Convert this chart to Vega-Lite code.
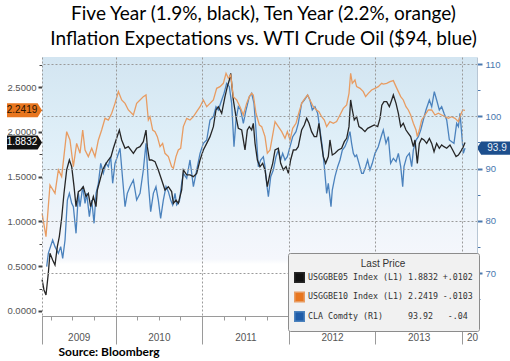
{
"$schema":"https://vega.github.io/schema/vega-lite/v6.json",
"width":435,"height":259,
"autosize":{"type":"none"},
"padding":{"left":42,"top":57,"right":33,"bottom":45},
"background":"#ffffff",
"title":{"text":["Five Year (1.9%, black), Ten Year (2.2%, orange)","Inflation Expectations  vs. WTI Crude Oil ($94, blue)"],"font":"Lato","fontSize":19,"fontWeight":"normal","color":"#000000","anchor":"middle","frame":"group","baseline":"bottom","offset":10,"lineHeight":25,"dx":4,"dy":21},
"datasets":{
"bg":[{"panel":"plot"}],
"pts":[
{"s":"USGGBE05","t":2009.152,"v":0.35},{"s":"USGGBE05","t":2009.174,"v":0.235},{"s":"USGGBE05","t":2009.197,"v":0.179},{"s":"USGGBE05","t":2009.224,"v":0.421},{"s":"USGGBE05","t":2009.243,"v":0.645},{"s":"USGGBE05","t":2009.274,"v":0.57},{"s":"USGGBE05","t":2009.301,"v":0.514},{"s":"USGGBE05","t":2009.328,"v":0.719},{"s":"USGGBE05","t":2009.351,"v":0.831},{"s":"USGGBE05","t":2009.378,"v":1.036},{"s":"USGGBE05","t":2009.405,"v":1.315},{"s":"USGGBE05","t":2009.436,"v":1.576},{"s":"USGGBE05","t":2009.467,"v":1.687},{"s":"USGGBE05","t":2009.494,"v":1.613},{"s":"USGGBE05","t":2009.521,"v":1.389},{"s":"USGGBE05","t":2009.544,"v":1.166},{"s":"USGGBE05","t":2009.571,"v":1.334},{"s":"USGGBE05","t":2009.598,"v":1.352},{"s":"USGGBE05","t":2009.628,"v":1.389},{"s":"USGGBE05","t":2009.659,"v":1.278},{"s":"USGGBE05","t":2009.686,"v":1.315},{"s":"USGGBE05","t":2009.713,"v":1.166},{"s":"USGGBE05","t":2009.744,"v":1.278},{"s":"USGGBE05","t":2009.775,"v":1.166},{"s":"USGGBE05","t":2009.79,"v":1.352},{"s":"USGGBE05","t":2009.821,"v":1.464},{"s":"USGGBE05","t":2009.852,"v":1.576},{"s":"USGGBE05","t":2009.879,"v":1.631},{"s":"USGGBE05","t":2009.917,"v":1.687},{"s":"USGGBE05","t":2009.948,"v":1.725},{"s":"USGGBE05","t":2009.975,"v":1.818},{"s":"USGGBE05","t":2010.006,"v":1.911},{"s":"USGGBE05","t":2010.044,"v":2.022},{"s":"USGGBE05","t":2010.071,"v":1.911},{"s":"USGGBE05","t":2010.11,"v":1.818},{"s":"USGGBE05","t":2010.148,"v":1.836},{"s":"USGGBE05","t":2010.206,"v":1.762},{"s":"USGGBE05","t":2010.244,"v":1.818},{"s":"USGGBE05","t":2010.283,"v":1.836},{"s":"USGGBE05","t":2010.321,"v":1.892},{"s":"USGGBE05","t":2010.352,"v":2.022},{"s":"USGGBE05","t":2010.367,"v":1.836},{"s":"USGGBE05","t":2010.391,"v":1.687},{"s":"USGGBE05","t":2010.417,"v":1.687},{"s":"USGGBE05","t":2010.456,"v":1.669},{"s":"USGGBE05","t":2010.494,"v":1.576},{"s":"USGGBE05","t":2010.533,"v":1.464},{"s":"USGGBE05","t":2010.571,"v":1.352},{"s":"USGGBE05","t":2010.61,"v":1.389},{"s":"USGGBE05","t":2010.648,"v":1.334},{"s":"USGGBE05","t":2010.668,"v":1.203},{"s":"USGGBE05","t":2010.698,"v":1.24},{"s":"USGGBE05","t":2010.725,"v":1.203},{"s":"USGGBE05","t":2010.764,"v":1.352},{"s":"USGGBE05","t":2010.783,"v":1.576},{"s":"USGGBE05","t":2010.822,"v":1.52},{"s":"USGGBE05","t":2010.86,"v":1.52},{"s":"USGGBE05","t":2010.899,"v":1.501},{"s":"USGGBE05","t":2010.937,"v":1.538},{"s":"USGGBE05","t":2010.976,"v":1.687},{"s":"USGGBE05","t":2011.014,"v":1.799},{"s":"USGGBE05","t":2011.053,"v":1.873},{"s":"USGGBE05","t":2011.091,"v":1.948},{"s":"USGGBE05","t":2011.13,"v":2.06},{"s":"USGGBE05","t":2011.16,"v":2.246},{"s":"USGGBE05","t":2011.187,"v":2.283},{"s":"USGGBE05","t":2011.226,"v":2.209},{"s":"USGGBE05","t":2011.264,"v":2.395},{"s":"USGGBE05","t":2011.291,"v":2.507},{"s":"USGGBE05","t":2011.314,"v":2.581},{"s":"USGGBE05","t":2011.33,"v":2.656},{"s":"USGGBE05","t":2011.36,"v":2.358},{"s":"USGGBE05","t":2011.391,"v":2.171},{"s":"USGGBE05","t":2011.418,"v":2.041},{"s":"USGGBE05","t":2011.457,"v":2.022},{"s":"USGGBE05","t":2011.495,"v":1.799},{"s":"USGGBE05","t":2011.522,"v":2.022},{"s":"USGGBE05","t":2011.545,"v":2.06},{"s":"USGGBE05","t":2011.572,"v":2.022},{"s":"USGGBE05","t":2011.591,"v":2.097},{"s":"USGGBE05","t":2011.611,"v":1.873},{"s":"USGGBE05","t":2011.638,"v":1.687},{"s":"USGGBE05","t":2011.668,"v":1.613},{"s":"USGGBE05","t":2011.699,"v":1.65},{"s":"USGGBE05","t":2011.726,"v":1.576},{"s":"USGGBE05","t":2011.753,"v":1.389},{"s":"USGGBE05","t":2011.784,"v":1.538},{"s":"USGGBE05","t":2011.815,"v":1.65},{"s":"USGGBE05","t":2011.842,"v":1.799},{"s":"USGGBE05","t":2011.88,"v":1.818},{"s":"USGGBE05","t":2011.907,"v":1.65},{"s":"USGGBE05","t":2011.938,"v":1.576},{"s":"USGGBE05","t":2011.969,"v":1.613},{"s":"USGGBE05","t":2011.996,"v":1.538},{"s":"USGGBE05","t":2012.022,"v":1.687},{"s":"USGGBE05","t":2012.053,"v":1.799},{"s":"USGGBE05","t":2012.084,"v":1.8},{"s":"USGGBE05","t":2012.11,"v":1.836},{"s":"USGGBE05","t":2012.149,"v":2.022},{"s":"USGGBE05","t":2012.18,"v":2.078},{"s":"USGGBE05","t":2012.207,"v":2.153},{"s":"USGGBE05","t":2012.234,"v":2.097},{"s":"USGGBE05","t":2012.264,"v":2.004},{"s":"USGGBE05","t":2012.295,"v":1.948},{"s":"USGGBE05","t":2012.322,"v":1.948},{"s":"USGGBE05","t":2012.349,"v":2.097},{"s":"USGGBE05","t":2012.372,"v":1.911},{"s":"USGGBE05","t":2012.399,"v":1.725},{"s":"USGGBE05","t":2012.426,"v":1.65},{"s":"USGGBE05","t":2012.457,"v":1.725},{"s":"USGGBE05","t":2012.476,"v":1.911},{"s":"USGGBE05","t":2012.503,"v":1.743},{"s":"USGGBE05","t":2012.534,"v":1.762},{"s":"USGGBE05","t":2012.572,"v":1.799},{"s":"USGGBE05","t":2012.611,"v":1.818},{"s":"USGGBE05","t":2012.642,"v":1.892},{"s":"USGGBE05","t":2012.669,"v":1.929},{"s":"USGGBE05","t":2012.696,"v":2.06},{"s":"USGGBE05","t":2012.715,"v":2.358},{"s":"USGGBE05","t":2012.734,"v":2.246},{"s":"USGGBE05","t":2012.757,"v":2.134},{"s":"USGGBE05","t":2012.784,"v":2.171},{"s":"USGGBE05","t":2012.811,"v":2.06},{"s":"USGGBE05","t":2012.842,"v":2.041},{"s":"USGGBE05","t":2012.88,"v":2.004},{"s":"USGGBE05","t":2012.911,"v":2.041},{"s":"USGGBE05","t":2012.95,"v":2.06},{"s":"USGGBE05","t":2012.988,"v":2.078},{"s":"USGGBE05","t":2013.027,"v":2.06},{"s":"USGGBE05","t":2013.054,"v":2.153},{"s":"USGGBE05","t":2013.075,"v":2.3},{"s":"USGGBE05","t":2013.1,"v":2.34},{"s":"USGGBE05","t":2013.131,"v":2.339},{"s":"USGGBE05","t":2013.162,"v":2.283},{"s":"USGGBE05","t":2013.189,"v":2.358},{"s":"USGGBE05","t":2013.208,"v":2.414},{"s":"USGGBE05","t":2013.239,"v":2.32},{"s":"USGGBE05","t":2013.266,"v":2.209},{"s":"USGGBE05","t":2013.293,"v":2.06},{"s":"USGGBE05","t":2013.323,"v":2.097},{"s":"USGGBE05","t":2013.354,"v":2.022},{"s":"USGGBE05","t":2013.381,"v":1.985},{"s":"USGGBE05","t":2013.408,"v":1.948},{"s":"USGGBE05","t":2013.439,"v":1.836},{"s":"USGGBE05","t":2013.458,"v":1.911},{"s":"USGGBE05","t":2013.485,"v":1.65},{"s":"USGGBE05","t":2013.508,"v":1.873},{"s":"USGGBE05","t":2013.535,"v":1.929},{"s":"USGGBE05","t":2013.562,"v":1.911},{"s":"USGGBE05","t":2013.593,"v":1.873},{"s":"USGGBE05","t":2013.624,"v":1.929},{"s":"USGGBE05","t":2013.651,"v":1.873},{"s":"USGGBE05","t":2013.678,"v":1.78},{"s":"USGGBE05","t":2013.708,"v":1.873},{"s":"USGGBE05","t":2013.739,"v":1.818},{"s":"USGGBE05","t":2013.766,"v":1.855},{"s":"USGGBE05","t":2013.793,"v":1.836},{"s":"USGGBE05","t":2013.824,"v":1.818},{"s":"USGGBE05","t":2013.862,"v":1.855},{"s":"USGGBE05","t":2013.893,"v":1.799},{"s":"USGGBE05","t":2013.932,"v":1.725},{"s":"USGGBE05","t":2013.959,"v":1.743},{"s":"USGGBE05","t":2013.985,"v":1.78},{"s":"USGGBE05","t":2014.016,"v":1.836},{"s":"USGGBE05","t":2014.036,"v":1.883},
{"s":"USGGBE10","t":2009.152,"v":1.091},{"s":"USGGBE10","t":2009.197,"v":0.831},{"s":"USGGBE10","t":2009.243,"v":1.408},{"s":"USGGBE10","t":2009.301,"v":1.315},{"s":"USGGBE10","t":2009.34,"v":1.576},{"s":"USGGBE10","t":2009.378,"v":1.501},{"s":"USGGBE10","t":2009.436,"v":2.004},{"s":"USGGBE10","t":2009.474,"v":1.911},{"s":"USGGBE10","t":2009.513,"v":1.613},{"s":"USGGBE10","t":2009.551,"v":1.873},{"s":"USGGBE10","t":2009.59,"v":1.762},{"s":"USGGBE10","t":2009.621,"v":2.022},{"s":"USGGBE10","t":2009.648,"v":1.799},{"s":"USGGBE10","t":2009.686,"v":1.725},{"s":"USGGBE10","t":2009.725,"v":1.818},{"s":"USGGBE10","t":2009.763,"v":1.725},{"s":"USGGBE10","t":2009.802,"v":1.911},{"s":"USGGBE10","t":2009.84,"v":2.022},{"s":"USGGBE10","t":2009.879,"v":2.153},{"s":"USGGBE10","t":2009.917,"v":2.134},{"s":"USGGBE10","t":2009.956,"v":2.209},{"s":"USGGBE10","t":2009.994,"v":2.32},{"s":"USGGBE10","t":2010.033,"v":2.451},{"s":"USGGBE10","t":2010.071,"v":2.358},{"s":"USGGBE10","t":2010.11,"v":2.32},{"s":"USGGBE10","t":2010.148,"v":2.246},{"s":"USGGBE10","t":2010.206,"v":2.19},{"s":"USGGBE10","t":2010.244,"v":2.32},{"s":"USGGBE10","t":2010.283,"v":2.358},{"s":"USGGBE10","t":2010.321,"v":2.395},{"s":"USGGBE10","t":2010.352,"v":2.414},{"s":"USGGBE10","t":2010.379,"v":2.134},{"s":"USGGBE10","t":2010.398,"v":2.171},{"s":"USGGBE10","t":2010.429,"v":2.022},{"s":"USGGBE10","t":2010.456,"v":2.004},{"s":"USGGBE10","t":2010.483,"v":1.948},{"s":"USGGBE10","t":2010.514,"v":1.836},{"s":"USGGBE10","t":2010.544,"v":1.873},{"s":"USGGBE10","t":2010.571,"v":1.762},{"s":"USGGBE10","t":2010.61,"v":1.725},{"s":"USGGBE10","t":2010.648,"v":1.613},{"s":"USGGBE10","t":2010.668,"v":1.594},{"s":"USGGBE10","t":2010.698,"v":1.725},{"s":"USGGBE10","t":2010.725,"v":1.799},{"s":"USGGBE10","t":2010.752,"v":1.818},{"s":"USGGBE10","t":2010.783,"v":2.06},{"s":"USGGBE10","t":2010.822,"v":2.153},{"s":"USGGBE10","t":2010.86,"v":2.134},{"s":"USGGBE10","t":2010.899,"v":2.171},{"s":"USGGBE10","t":2010.937,"v":2.227},{"s":"USGGBE10","t":2010.976,"v":2.283},{"s":"USGGBE10","t":2011.014,"v":2.358},{"s":"USGGBE10","t":2011.053,"v":2.283},{"s":"USGGBE10","t":2011.091,"v":2.32},{"s":"USGGBE10","t":2011.13,"v":2.358},{"s":"USGGBE10","t":2011.168,"v":2.488},{"s":"USGGBE10","t":2011.207,"v":2.507},{"s":"USGGBE10","t":2011.245,"v":2.544},{"s":"USGGBE10","t":2011.276,"v":2.656},{"s":"USGGBE10","t":2011.303,"v":2.6},{"s":"USGGBE10","t":2011.33,"v":2.637},{"s":"USGGBE10","t":2011.36,"v":2.395},{"s":"USGGBE10","t":2011.399,"v":2.358},{"s":"USGGBE10","t":2011.437,"v":2.283},{"s":"USGGBE10","t":2011.476,"v":2.19},{"s":"USGGBE10","t":2011.514,"v":2.32},{"s":"USGGBE10","t":2011.545,"v":2.395},{"s":"USGGBE10","t":2011.572,"v":2.432},{"s":"USGGBE10","t":2011.591,"v":2.414},{"s":"USGGBE10","t":2011.622,"v":2.209},{"s":"USGGBE10","t":2011.661,"v":2.078},{"s":"USGGBE10","t":2011.688,"v":2.06},{"s":"USGGBE10","t":2011.726,"v":1.948},{"s":"USGGBE10","t":2011.753,"v":1.762},{"s":"USGGBE10","t":2011.784,"v":1.799},{"s":"USGGBE10","t":2011.815,"v":1.967},{"s":"USGGBE10","t":2011.842,"v":2.116},{"s":"USGGBE10","t":2011.88,"v":2.06},{"s":"USGGBE10","t":2011.919,"v":2.004},{"s":"USGGBE10","t":2011.957,"v":1.929},{"s":"USGGBE10","t":2011.984,"v":2.004},{"s":"USGGBE10","t":2012.015,"v":1.911},{"s":"USGGBE10","t":2012.046,"v":2.041},{"s":"USGGBE10","t":2012.084,"v":2.097},{"s":"USGGBE10","t":2012.11,"v":2.19},{"s":"USGGBE10","t":2012.149,"v":2.32},{"s":"USGGBE10","t":2012.187,"v":2.376},{"s":"USGGBE10","t":2012.218,"v":2.414},{"s":"USGGBE10","t":2012.245,"v":2.358},{"s":"USGGBE10","t":2012.284,"v":2.283},{"s":"USGGBE10","t":2012.322,"v":2.246},{"s":"USGGBE10","t":2012.349,"v":2.227},{"s":"USGGBE10","t":2012.38,"v":2.171},{"s":"USGGBE10","t":2012.411,"v":2.134},{"s":"USGGBE10","t":2012.438,"v":2.06},{"s":"USGGBE10","t":2012.476,"v":2.116},{"s":"USGGBE10","t":2012.515,"v":2.097},{"s":"USGGBE10","t":2012.553,"v":2.116},{"s":"USGGBE10","t":2012.592,"v":2.19},{"s":"USGGBE10","t":2012.63,"v":2.264},{"s":"USGGBE10","t":2012.669,"v":2.302},{"s":"USGGBE10","t":2012.696,"v":2.432},{"s":"USGGBE10","t":2012.715,"v":2.656},{"s":"USGGBE10","t":2012.734,"v":2.544},{"s":"USGGBE10","t":2012.765,"v":2.581},{"s":"USGGBE10","t":2012.784,"v":2.507},{"s":"USGGBE10","t":2012.823,"v":2.488},{"s":"USGGBE10","t":2012.861,"v":2.451},{"s":"USGGBE10","t":2012.888,"v":2.395},{"s":"USGGBE10","t":2012.919,"v":2.432},{"s":"USGGBE10","t":2012.957,"v":2.469},{"s":"USGGBE10","t":2012.996,"v":2.488},{"s":"USGGBE10","t":2013.034,"v":2.507},{"s":"USGGBE10","t":2013.073,"v":2.544},{"s":"USGGBE10","t":2013.092,"v":2.536},{"s":"USGGBE10","t":2013.131,"v":2.544},{"s":"USGGBE10","t":2013.17,"v":2.562},{"s":"USGGBE10","t":2013.208,"v":2.574},{"s":"USGGBE10","t":2013.239,"v":2.507},{"s":"USGGBE10","t":2013.266,"v":2.451},{"s":"USGGBE10","t":2013.293,"v":2.395},{"s":"USGGBE10","t":2013.323,"v":2.358},{"s":"USGGBE10","t":2013.354,"v":2.283},{"s":"USGGBE10","t":2013.381,"v":2.246},{"s":"USGGBE10","t":2013.408,"v":2.19},{"s":"USGGBE10","t":2013.439,"v":2.097},{"s":"USGGBE10","t":2013.47,"v":2.022},{"s":"USGGBE10","t":2013.485,"v":1.948},{"s":"USGGBE10","t":2013.508,"v":2.022},{"s":"USGGBE10","t":2013.535,"v":2.134},{"s":"USGGBE10","t":2013.574,"v":2.19},{"s":"USGGBE10","t":2013.612,"v":2.246},{"s":"USGGBE10","t":2013.651,"v":2.246},{"s":"USGGBE10","t":2013.689,"v":2.19},{"s":"USGGBE10","t":2013.728,"v":2.209},{"s":"USGGBE10","t":2013.766,"v":2.19},{"s":"USGGBE10","t":2013.805,"v":2.171},{"s":"USGGBE10","t":2013.843,"v":2.153},{"s":"USGGBE10","t":2013.882,"v":2.171},{"s":"USGGBE10","t":2013.92,"v":2.153},{"s":"USGGBE10","t":2013.959,"v":2.116},{"s":"USGGBE10","t":2013.985,"v":2.19},{"s":"USGGBE10","t":2014.009,"v":2.246},{"s":"USGGBE10","t":2014.036,"v":2.242},
{"s":"CLA","t":2009.205,"v":71.25},{"s":"CLA","t":2009.224,"v":73.8},{"s":"CLA","t":2009.274,"v":76.35},{"s":"CLA","t":2009.301,"v":75.08},{"s":"CLA","t":2009.34,"v":73.8},{"s":"CLA","t":2009.367,"v":75.08},{"s":"CLA","t":2009.39,"v":72.84},{"s":"CLA","t":2009.417,"v":76.35},{"s":"CLA","t":2009.444,"v":84.0},{"s":"CLA","t":2009.467,"v":85.27},{"s":"CLA","t":2009.494,"v":83.36},{"s":"CLA","t":2009.513,"v":82.72},{"s":"CLA","t":2009.544,"v":77.63},{"s":"CLA","t":2009.571,"v":85.27},{"s":"CLA","t":2009.59,"v":82.72},{"s":"CLA","t":2009.621,"v":86.55},{"s":"CLA","t":2009.648,"v":83.36},{"s":"CLA","t":2009.667,"v":85.27},{"s":"CLA","t":2009.698,"v":80.81},{"s":"CLA","t":2009.725,"v":83.99},{"s":"CLA","t":2009.752,"v":79.54},{"s":"CLA","t":2009.775,"v":85.27},{"s":"CLA","t":2009.802,"v":87.19},{"s":"CLA","t":2009.829,"v":91.01},{"s":"CLA","t":2009.859,"v":89.1},{"s":"CLA","t":2009.89,"v":91.01},{"s":"CLA","t":2009.917,"v":90.37},{"s":"CLA","t":2009.944,"v":92.28},{"s":"CLA","t":2009.967,"v":87.19},{"s":"CLA","t":2009.994,"v":91.01},{"s":"CLA","t":2010.021,"v":92.28},{"s":"CLA","t":2010.052,"v":93.88},{"s":"CLA","t":2010.083,"v":87.82},{"s":"CLA","t":2010.11,"v":82.72},{"s":"CLA","t":2010.136,"v":85.27},{"s":"CLA","t":2010.167,"v":86.55},{"s":"CLA","t":2010.206,"v":87.82},{"s":"CLA","t":2010.244,"v":83.99},{"s":"CLA","t":2010.283,"v":85.27},{"s":"CLA","t":2010.321,"v":89.73},{"s":"CLA","t":2010.352,"v":94.83},{"s":"CLA","t":2010.379,"v":87.19},{"s":"CLA","t":2010.406,"v":81.77},{"s":"CLA","t":2010.437,"v":85.27},{"s":"CLA","t":2010.467,"v":86.55},{"s":"CLA","t":2010.494,"v":83.99},{"s":"CLA","t":2010.521,"v":80.49},{"s":"CLA","t":2010.552,"v":83.99},{"s":"CLA","t":2010.583,"v":86.55},{"s":"CLA","t":2010.61,"v":85.59},{"s":"CLA","t":2010.637,"v":83.99},{"s":"CLA","t":2010.66,"v":83.04},{"s":"CLA","t":2010.687,"v":85.27},{"s":"CLA","t":2010.706,"v":83.04},{"s":"CLA","t":2010.737,"v":83.68},{"s":"CLA","t":2010.764,"v":87.19},{"s":"CLA","t":2010.783,"v":89.1},{"s":"CLA","t":2010.822,"v":88.14},{"s":"CLA","t":2010.86,"v":91.65},{"s":"CLA","t":2010.899,"v":86.55},{"s":"CLA","t":2010.937,"v":89.73},{"s":"CLA","t":2010.976,"v":92.92},{"s":"CLA","t":2011.014,"v":94.83},{"s":"CLA","t":2011.053,"v":95.47},{"s":"CLA","t":2011.091,"v":99.29},{"s":"CLA","t":2011.13,"v":99.93},{"s":"CLA","t":2011.16,"v":101.84},{"s":"CLA","t":2011.187,"v":101.21},{"s":"CLA","t":2011.226,"v":103.12},{"s":"CLA","t":2011.253,"v":104.39},{"s":"CLA","t":2011.283,"v":106.3},{"s":"CLA","t":2011.314,"v":105.67},{"s":"CLA","t":2011.341,"v":102.48},{"s":"CLA","t":2011.368,"v":94.19},{"s":"CLA","t":2011.391,"v":99.29},{"s":"CLA","t":2011.418,"v":101.84},{"s":"CLA","t":2011.445,"v":101.21},{"s":"CLA","t":2011.476,"v":98.66},{"s":"CLA","t":2011.507,"v":101.21},{"s":"CLA","t":2011.545,"v":103.75},{"s":"CLA","t":2011.572,"v":104.39},{"s":"CLA","t":2011.599,"v":102.48},{"s":"CLA","t":2011.622,"v":97.38},{"s":"CLA","t":2011.649,"v":90.37},{"s":"CLA","t":2011.676,"v":91.65},{"s":"CLA","t":2011.707,"v":92.28},{"s":"CLA","t":2011.726,"v":90.37},{"s":"CLA","t":2011.745,"v":87.19},{"s":"CLA","t":2011.765,"v":84.64},{"s":"CLA","t":2011.792,"v":88.46},{"s":"CLA","t":2011.822,"v":89.73},{"s":"CLA","t":2011.853,"v":92.28},{"s":"CLA","t":2011.88,"v":93.56},{"s":"CLA","t":2011.907,"v":91.65},{"s":"CLA","t":2011.93,"v":92.92},{"s":"CLA","t":2011.957,"v":91.65},{"s":"CLA","t":2011.984,"v":92.28},{"s":"CLA","t":2012.015,"v":94.19},{"s":"CLA","t":2012.046,"v":96.11},{"s":"CLA","t":2012.084,"v":97.06},{"s":"CLA","t":2012.11,"v":98.66},{"s":"CLA","t":2012.149,"v":102.48},{"s":"CLA","t":2012.18,"v":103.12},{"s":"CLA","t":2012.218,"v":104.07},{"s":"CLA","t":2012.245,"v":103.12},{"s":"CLA","t":2012.272,"v":101.21},{"s":"CLA","t":2012.303,"v":101.84},{"s":"CLA","t":2012.334,"v":100.57},{"s":"CLA","t":2012.361,"v":97.38},{"s":"CLA","t":2012.388,"v":94.19},{"s":"CLA","t":2012.411,"v":90.37},{"s":"CLA","t":2012.438,"v":85.27},{"s":"CLA","t":2012.457,"v":87.19},{"s":"CLA","t":2012.488,"v":82.72},{"s":"CLA","t":2012.503,"v":85.91},{"s":"CLA","t":2012.534,"v":88.46},{"s":"CLA","t":2012.565,"v":90.37},{"s":"CLA","t":2012.592,"v":91.65},{"s":"CLA","t":2012.619,"v":93.56},{"s":"CLA","t":2012.649,"v":94.19},{"s":"CLA","t":2012.68,"v":95.47},{"s":"CLA","t":2012.707,"v":97.06},{"s":"CLA","t":2012.726,"v":94.83},{"s":"CLA","t":2012.746,"v":92.92},{"s":"CLA","t":2012.765,"v":92.28},{"s":"CLA","t":2012.784,"v":92.6},{"s":"CLA","t":2012.811,"v":91.01},{"s":"CLA","t":2012.842,"v":89.1},{"s":"CLA","t":2012.861,"v":89.1},{"s":"CLA","t":2012.888,"v":90.37},{"s":"CLA","t":2012.911,"v":91.65},{"s":"CLA","t":2012.938,"v":89.73},{"s":"CLA","t":2012.965,"v":91.01},{"s":"CLA","t":2012.996,"v":92.92},{"s":"CLA","t":2013.034,"v":94.19},{"s":"CLA","t":2013.073,"v":96.43},{"s":"CLA","t":2013.092,"v":97.38},{"s":"CLA","t":2013.123,"v":94.83},{"s":"CLA","t":2013.15,"v":96.11},{"s":"CLA","t":2013.177,"v":91.01},{"s":"CLA","t":2013.208,"v":91.97},{"s":"CLA","t":2013.239,"v":91.33},{"s":"CLA","t":2013.266,"v":92.92},{"s":"CLA","t":2013.293,"v":90.37},{"s":"CLA","t":2013.316,"v":86.55},{"s":"CLA","t":2013.331,"v":90.37},{"s":"CLA","t":2013.362,"v":92.28},{"s":"CLA","t":2013.393,"v":92.92},{"s":"CLA","t":2013.42,"v":90.37},{"s":"CLA","t":2013.439,"v":93.56},{"s":"CLA","t":2013.47,"v":95.47},{"s":"CLA","t":2013.497,"v":96.11},{"s":"CLA","t":2013.524,"v":97.38},{"s":"CLA","t":2013.554,"v":99.29},{"s":"CLA","t":2013.585,"v":101.21},{"s":"CLA","t":2013.624,"v":103.12},{"s":"CLA","t":2013.651,"v":101.84},{"s":"CLA","t":2013.681,"v":104.71},{"s":"CLA","t":2013.708,"v":103.12},{"s":"CLA","t":2013.739,"v":101.21},{"s":"CLA","t":2013.766,"v":101.84},{"s":"CLA","t":2013.793,"v":100.57},{"s":"CLA","t":2013.824,"v":99.29},{"s":"CLA","t":2013.855,"v":95.47},{"s":"CLA","t":2013.882,"v":95.15},{"s":"CLA","t":2013.908,"v":94.83},{"s":"CLA","t":2013.939,"v":98.66},{"s":"CLA","t":2013.959,"v":98.02},{"s":"CLA","t":2013.978,"v":100.57},{"s":"CLA","t":2013.997,"v":96.74},{"s":"CLA","t":2014.016,"v":92.92},{"s":"CLA","t":2014.036,"v":93.92}
],
"last":[{"s":"USGGBE10","v":2.2419,"label":"2.2419"},{"s":"USGGBE05","v":1.8832,"label":"1.8832"},{"s":"CLA","v":93.92,"label":"93.9"}]
},
"layer":[
{"data":{"name":"bg"},
"mark":{"type":"rect","color":{"gradient":"linear","x1":0,"y1":0,"x2":0,"y2":1,"stops":[{"offset":0,"color":"#d3e5f1"},{"offset":0.22,"color":"#dbecf6"},{"offset":0.45,"color":"#e5f2fa"},{"offset":0.6,"color":"#eef4fa"},{"offset":0.78,"color":"#f5f7fc"},{"offset":0.8,"color":"#ffffff"},{"offset":1,"color":"#ffffff"}]}},
"encoding":{
"x":{"datum":2009.151,"type":"quantitative","scale":{"domain":[2009.151,2014.174],"nice":false,"zero":false},
"axis":{"orient":"bottom","values":[2009.25,2009.5,2009.75,2010.25,2010.5,2010.75,2011.25,2011.5,2011.75,2012.25,2012.5,2012.75,2013.25,2013.5,2013.75],"labels":false,"tickSize":4,"tickColor":"#9a9a9a","domain":false,"grid":false,"title":null}},
"x2":{"datum":2014.174},
"y":{"datum":-0.056,"type":"quantitative","scale":{"domain":[-0.056,2.838],"nice":false,"zero":false},
"axis":{"orient":"left","values":[0.25,0.75,1.25,1.75,2.25,2.75],"labels":false,"tickSize":3,"tickWidth":1,"tickColor":"#444444","domain":false,"grid":false,"title":null}},
"y2":{"datum":2.838}}},
{"data":{"name":"bg"},"mark":{"type":"point","opacity":0},
"encoding":{"y":{"datum":90,"type":"quantitative","scale":{"domain":[61.82,111.34],"nice":false,"zero":false},
"axis":{"orient":"right","values":[65,75,85,95,105],"labels":false,"tickSize":3,"tickWidth":1,"tickColor":"#4a78ae","domain":false,"grid":false,"title":null}}}},
{
"encoding":{"y":{"field":"v","type":"quantitative","scale":{"domain":[61.82,111.34],"nice":false,"zero":false},
"axis":{"orient":"right","title":null,"values":[70,80,90,100,110],"format":"d","labelOverlap":false,"labelFont":"Liberation Sans","labelFontSize":9.5,"labelColor":"#4a78ae","labelPadding":3,
"tickColor":"#4a78ae","tickSize":5,"tickWidth":2,"domainColor":"#b8c6d4","grid":true,"gridDash":[2,2],"gridColor":"#9a9a9a","zindex":1}}},
"layer":[
{"data":{"name":"pts"},"transform":[{"filter":"datum.s == 'CLA'"}],
"mark":{"type":"line","strokeWidth":1.3},
"encoding":{
"x":{"field":"t","type":"quantitative","scale":{"domain":[2009.151,2014.174],"nice":false,"zero":false},
"axis":{"orient":"bottom","values":[2009.151,2010,2011,2012,2013,2014],"labels":false,"tickSize":28,"tickColor":"#9a9a9a","title":"Source:  Bloomberg","titleFont":"Lato","titleFontSize":12,"titleFontWeight":"bold","titleColor":"#000000","titleAnchor":"start","titleAlign":"left","titleX":16,"titleY":39,"titleBaseline":"alphabetic","domainColor":"#9a9a9a","grid":true,"gridDash":[2,2],"gridColor":"#9a9a9a","zindex":1}},
"color":{"field":"s","type":"nominal","scale":{"domain":["USGGBE05","USGGBE10","CLA"],"range":["#262626","#e89c62","#4b82bd"]},
"legend":{"orient":"none","legendX":246,"legendY":196,"zindex":2,"title":"Last Price","titleAnchor":"middle","titleFont":"Liberation Sans","titleFontSize":10,"titleFontWeight":"normal","titleColor":"#333333","titlePadding":3,
"symbolType":"square","symbolSize":90,"labelFont":"DejaVu Sans Mono","labelFontSize":8.3,"labelColor":"#333333","labelLimit":400,"labelOffset":3,"rowPadding":2.5,"padding":6,
"fillColor":"#f1f1f1","strokeColor":"#8c8c8c","cornerRadius":2,
"labelExpr":"datum.value == 'USGGBE05' ? 'USGGBE05 Index (L1) 1.8832 +.0102' : (datum.value == 'USGGBE10' ? 'USGGBE10 Index (L1) 2.2419 -.0103' : 'CLA Comdty (R1)\u00a0\u00a0\u00a0\u00a0\u00a093.92\u00a0\u00a0\u00a0-.04')",
"encode":{"symbols":{"update":{"fill":{"signal":"datum.value == 'USGGBE10' ? '#e8761f' : (datum.value == 'CLA' ? '#1f5ca8' : '#111111')"},"stroke":{"signal":"datum.value == 'USGGBE10' ? '#e8761f' : (datum.value == 'CLA' ? '#1f5ca8' : '#111111')"},"opacity":{"value":1},"fillOpacity":{"value":1}}}}}}
}},
{"data":{"name":"last"},"transform":[{"filter":"datum.s == 'CLA'"}],
"mark":{"type":"point","shape":"M1,-0.4L-0.75,-0.4L-1,0L-0.75,0.4L1,0.4Z","filled":true,"size":1089,"opacity":1,"xOffset":16.5,"fill":"#1d4f8d","strokeWidth":0},
"encoding":{"x":{"datum":2014.174,"type":"quantitative",
"axis":{"orient":"bottom","values":[2009.151,2010,2011,2012,2013,2014],"labels":false,"tickSize":28,"tickColor":"#9a9a9a","title":"Source:  Bloomberg","titleFont":"Lato","titleFontSize":12,"titleFontWeight":"bold","titleColor":"#000000","titleAnchor":"start","titleAlign":"left","titleX":16,"titleY":39,"titleBaseline":"alphabetic","domainColor":"#9a9a9a","grid":true,"gridDash":[2,2],"gridColor":"#9a9a9a","zindex":1}}}},
{"data":{"name":"last"},"transform":[{"filter":"datum.s == 'CLA'"}],
"mark":{"type":"text","font":"Liberation Sans","fontSize":10,"color":"#e8eef7","xOffset":20,"align":"center","baseline":"middle"},
"encoding":{"x":{"datum":2014.174,"type":"quantitative",
"axis":{"orient":"bottom","values":[2009.151,2010,2011,2012,2013,2014],"labels":false,"tickSize":28,"tickColor":"#9a9a9a","title":"Source:  Bloomberg","titleFont":"Lato","titleFontSize":12,"titleFontWeight":"bold","titleColor":"#000000","titleAnchor":"start","titleAlign":"left","titleX":16,"titleY":39,"titleBaseline":"alphabetic","domainColor":"#9a9a9a","grid":true,"gridDash":[2,2],"gridColor":"#9a9a9a","zindex":1}},
"text":{"field":"label"}}}
]
},
{
"encoding":{"y":{"field":"v","type":"quantitative","scale":{"domain":[-0.056,2.838],"nice":false,"zero":false},
"axis":{"orient":"left","title":null,"values":[0,0.5,1,1.5,2,2.5],"format":".4f","labelOverlap":false,"labelFont":"Liberation Sans","labelFontSize":9.5,"labelColor":"#555555","labelPadding":2,
"tickColor":"#444444","tickSize":4,"tickWidth":2,"domainColor":"#555555","grid":false}}},
"layer":[
{"data":{"name":"pts"},"transform":[{"filter":"datum.s != 'CLA'"}],
"mark":{"type":"line","strokeWidth":1.3},
"encoding":{
"x":{"field":"t","type":"quantitative","scale":{"domain":[2009.151,2014.174],"nice":false,"zero":false},
"axis":{"orient":"bottom","values":[2009.575,2010.5,2011.5,2012.5,2013.5,2014.116],"title":null,"domain":false,"grid":false,"tickSize":4,"tickOpacity":0,"labelExpr":"datum.value < 2010 ? '2009' : (datum.value > 2014 ? '20' : format(floor(datum.value), 'd'))","labelFont":"Liberation Sans","labelFontSize":10,"labelColor":"#555555","labelPadding":17,"labelBaseline":"middle","labelFlush":false,"labelOverlap":false,"labelBound":false}},
"color":{"field":"s","type":"nominal","scale":{"domain":["USGGBE05","USGGBE10","CLA"],"range":["#262626","#e89c62","#4b82bd"]},
"legend":{"orient":"none","legendX":246,"legendY":196,"zindex":2,"title":"Last Price","titleAnchor":"middle","titleFont":"Liberation Sans","titleFontSize":10,"titleFontWeight":"normal","titleColor":"#333333","titlePadding":3,
"symbolType":"square","symbolSize":90,"labelFont":"DejaVu Sans Mono","labelFontSize":8.3,"labelColor":"#333333","labelLimit":400,"labelOffset":3,"rowPadding":2.5,"padding":6,
"fillColor":"#f1f1f1","strokeColor":"#8c8c8c","cornerRadius":2,
"labelExpr":"datum.value == 'USGGBE05' ? 'USGGBE05 Index (L1) 1.8832 +.0102' : (datum.value == 'USGGBE10' ? 'USGGBE10 Index (L1) 2.2419 -.0103' : 'CLA Comdty (R1)\u00a0\u00a0\u00a0\u00a0\u00a093.92\u00a0\u00a0\u00a0-.04')",
"encode":{"symbols":{"update":{"fill":{"signal":"datum.value == 'USGGBE10' ? '#e8761f' : (datum.value == 'CLA' ? '#1f5ca8' : '#111111')"},"stroke":{"signal":"datum.value == 'USGGBE10' ? '#e8761f' : (datum.value == 'CLA' ? '#1f5ca8' : '#111111')"},"opacity":{"value":1},"fillOpacity":{"value":1}}}}}}
}},
{"data":{"name":"last"},"transform":[{"filter":"datum.s != 'CLA'"}],
"mark":{"type":"point","shape":"M-1,-0.4L0.75,-0.4L1,0L0.75,0.4L-1,0.4Z","filled":true,"size":1225,"opacity":1,"xOffset":-17.5,"strokeWidth":0},
"encoding":{"x":{"datum":2009.151,"type":"quantitative",
"axis":{"orient":"bottom","values":[2009.575,2010.5,2011.5,2012.5,2013.5,2014.116],"title":null,"domain":false,"grid":false,"tickSize":4,"tickOpacity":0,"labelExpr":"datum.value < 2010 ? '2009' : (datum.value > 2014 ? '20' : format(floor(datum.value), 'd'))","labelFont":"Liberation Sans","labelFontSize":10,"labelColor":"#555555","labelPadding":17,"labelBaseline":"middle","labelFlush":false,"labelOverlap":false,"labelBound":false}},
"fill":{"field":"s","type":"nominal","scale":{"domain":["USGGBE05","USGGBE10"],"range":["#111111","#e8761f"]},"legend":null}}},
{"data":{"name":"last"},"transform":[{"filter":"datum.s != 'CLA'"}],
"mark":{"type":"text","font":"Liberation Sans","fontSize":10,"xOffset":-20,"align":"center","baseline":"middle"},
"encoding":{"x":{"datum":2009.151,"type":"quantitative",
"axis":{"orient":"bottom","values":[2009.575,2010.5,2011.5,2012.5,2013.5,2014.116],"title":null,"domain":false,"grid":false,"tickSize":4,"tickOpacity":0,"labelExpr":"datum.value < 2010 ? '2009' : (datum.value > 2014 ? '20' : format(floor(datum.value), 'd'))","labelFont":"Liberation Sans","labelFontSize":10,"labelColor":"#555555","labelPadding":17,"labelBaseline":"middle","labelFlush":false,"labelOverlap":false,"labelBound":false}},
"text":{"field":"label"},
"color":{"condition":{"test":"datum.s == 'USGGBE05'","value":"#ffffff"},"value":"#2a1400"}}}
]
}
],
"resolve":{"scale":{"y":"independent"},"axis":{"x":"independent"}},
"config":{"view":{"stroke":null}}
}
